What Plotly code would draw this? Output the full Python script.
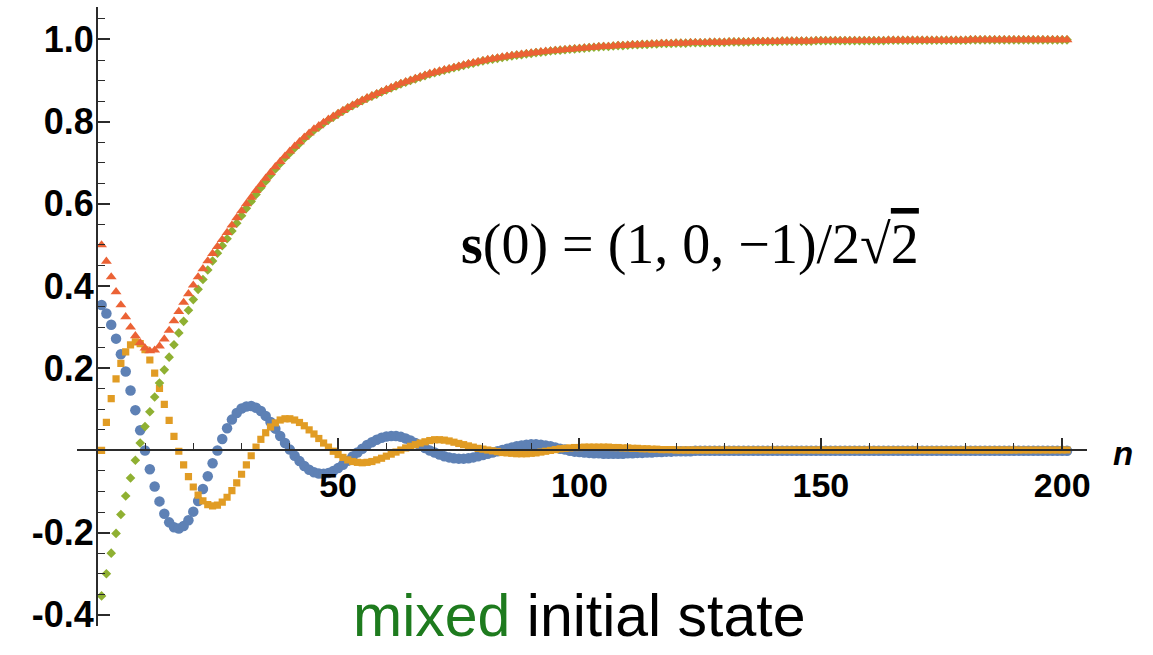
import plotly.graph_objects as go

# step index n (ListPlot-style: first entry is the initial state at n = 1)
n = list(range(1, 202))

blue = [
    0.354, 0.333, 0.306, 0.272, 0.234, 0.192, 0.146, 0.098, 0.049, 0.000,
    -0.046, -0.088, -0.124, -0.154, -0.175, -0.187, -0.190, -0.184, -0.170, -0.149,
    -0.123, -0.094, -0.063, -0.031, 0.000, 0.028, 0.054, 0.075, 0.091, 0.102,
    0.107, 0.108, 0.104, 0.096, 0.084, 0.069, 0.053, 0.035, 0.018, 0.002,
    -0.013, -0.026, -0.038, -0.047, -0.053, -0.056, -0.057, -0.055, -0.050, -0.043,
    -0.035, -0.025, -0.015, -0.005, 0.004, 0.013, 0.020, 0.026, 0.031, 0.034,
    0.035, 0.035, 0.033, 0.029, 0.024, 0.018, 0.012, 0.006, 0.000, -0.005,
    -0.010, -0.014, -0.017, -0.019, -0.020, -0.020, -0.019, -0.017, -0.014, -0.011,
    -0.008, -0.005, -0.002, 0.001, 0.004, 0.007, 0.010, 0.012, 0.014, 0.015,
    0.015, 0.014, 0.012, 0.010, 0.007, 0.004, 0.002, -0.001, -0.003, -0.004,
    -0.005, -0.006, -0.007, -0.007, -0.008, -0.008, -0.008, -0.008, -0.008, -0.007,
    -0.007, -0.006, -0.006, -0.005, -0.005, -0.004, -0.004, -0.003, -0.003, -0.002,
    -0.002, -0.002, -0.002, -0.001, -0.001, -0.001, -0.001, -0.001, -0.001, -0.001,
    -0.001, -0.001, -0.001, -0.001, -0.001, -0.001, -0.001, -0.001, -0.001, -0.001,
    -0.001, -0.001, -0.001, -0.001, -0.001, -0.001, -0.001, -0.001, -0.001, -0.001,
    -0.001, -0.001, -0.001, -0.001, -0.001, -0.001, -0.001, -0.001, -0.001, -0.001,
    -0.001, -0.001, -0.001, -0.001, -0.001, -0.001, -0.001, -0.001, -0.001, -0.001,
    -0.001, -0.001, -0.001, -0.001, -0.001, -0.001, -0.001, -0.001, -0.001, -0.001,
    -0.001, -0.001, -0.001, -0.001, -0.001, -0.001, -0.001, -0.001, -0.001, -0.001,
    -0.001, -0.001, -0.001, -0.001, -0.001, -0.001, -0.001, -0.001, -0.001, -0.001,
    -0.001,
]

orange = [
    0.000, 0.068, 0.126, 0.174, 0.212, 0.240, 0.257, 0.264, 0.260, 0.245,
    0.220, 0.188, 0.151, 0.112, 0.073, 0.034, -0.002, -0.035, -0.064, -0.089,
    -0.109, -0.123, -0.132, -0.135, -0.133, -0.126, -0.114, -0.098, -0.079, -0.058,
    -0.035, -0.013, 0.008, 0.027, 0.043, 0.057, 0.067, 0.074, 0.077, 0.077,
    0.074, 0.068, 0.060, 0.050, 0.040, 0.029, 0.018, 0.008, -0.002, -0.010,
    -0.017, -0.023, -0.027, -0.029, -0.030, -0.029, -0.027, -0.023, -0.019, -0.014,
    -0.009, -0.004, 0.001, 0.006, 0.010, 0.014, 0.018, 0.021, 0.024, 0.026,
    0.026, 0.025, 0.023, 0.020, 0.017, 0.014, 0.011, 0.008, 0.005, 0.003,
    0.001, -0.001, -0.003, -0.005, -0.006, -0.007, -0.008, -0.008, -0.008, -0.007,
    -0.006, -0.004, -0.002, 0.000, 0.002, 0.004, 0.005, 0.006, 0.007, 0.007,
    0.008, 0.008, 0.008, 0.008, 0.008, 0.008, 0.007, 0.007, 0.006, 0.006,
    0.005, 0.005, 0.004, 0.004, 0.003, 0.003, 0.002, 0.002, 0.002, 0.001,
    0.001, 0.001, 0.001, 0.001, 0.001, 0.001, 0.001, 0.001, 0.001, 0.001,
    0.001, 0.001, 0.001, 0.001, 0.001, 0.001, 0.001, 0.001, 0.001, 0.001,
    0.001, 0.001, 0.001, 0.001, 0.001, 0.001, 0.001, 0.001, 0.001, 0.001,
    0.001, 0.001, 0.001, 0.001, 0.001, 0.001, 0.001, 0.001, 0.001, 0.001,
    0.001, 0.001, 0.001, 0.001, 0.001, 0.001, 0.001, 0.001, 0.001, 0.001,
    0.001, 0.001, 0.001, 0.001, 0.001, 0.001, 0.001, 0.001, 0.001, 0.001,
    0.001, 0.001, 0.001, 0.001, 0.001, 0.001, 0.001, 0.001, 0.001, 0.001,
    0.001, 0.001, 0.001, 0.001, 0.001, 0.001, 0.001, 0.001, 0.001, 0.001,
    0.001,
]

green = [
    -0.354, -0.300, -0.250, -0.202, -0.156, -0.111, -0.067, -0.024, 0.018, 0.058,
    0.094, 0.130, 0.164, 0.196, 0.227, 0.257, 0.286, 0.314, 0.341, 0.367,
    0.392, 0.416, 0.439, 0.461, 0.480, 0.498, 0.515, 0.534, 0.553, 0.571,
    0.589, 0.606, 0.623, 0.639, 0.655, 0.670, 0.685, 0.698, 0.712, 0.724,
    0.736, 0.747, 0.759, 0.769, 0.779, 0.787, 0.796, 0.804, 0.811, 0.819,
    0.826, 0.833, 0.839, 0.845, 0.851, 0.857, 0.862, 0.867, 0.872, 0.877,
    0.882, 0.887, 0.892, 0.896, 0.900, 0.904, 0.908, 0.912, 0.916, 0.919,
    0.922, 0.925, 0.928, 0.931, 0.934, 0.937, 0.940, 0.942, 0.945, 0.948,
    0.950, 0.952, 0.954, 0.956, 0.958, 0.960, 0.962, 0.963, 0.965, 0.966,
    0.968, 0.969, 0.970, 0.972, 0.973, 0.974, 0.975, 0.976, 0.977, 0.978,
    0.979, 0.980, 0.981, 0.982, 0.983, 0.983, 0.984, 0.985, 0.985, 0.986,
    0.987, 0.987, 0.988, 0.988, 0.989, 0.989, 0.990, 0.990, 0.990, 0.991,
    0.991, 0.991, 0.992, 0.992, 0.992, 0.992, 0.993, 0.993, 0.993, 0.993,
    0.994, 0.994, 0.994, 0.994, 0.994, 0.995, 0.995, 0.995, 0.995, 0.995,
    0.995, 0.996, 0.996, 0.996, 0.996, 0.996, 0.996, 0.996, 0.997, 0.997,
    0.997, 0.997, 0.997, 0.997, 0.997, 0.997, 0.997, 0.997, 0.997, 0.997,
    0.997, 0.997, 0.997, 0.998, 0.998, 0.998, 0.998, 0.998, 0.998, 0.998,
    0.998, 0.998, 0.998, 0.998, 0.998, 0.998, 0.998, 0.998, 0.998, 0.998,
    0.999, 0.999, 0.999, 0.999, 0.999, 0.999, 0.999, 0.999, 0.999, 0.999,
    0.999, 0.999, 0.999, 0.999, 0.999, 0.999, 0.999, 0.999, 0.999, 0.999,
    0.999,
]

red = [
    0.500, 0.460, 0.422, 0.386, 0.354, 0.325, 0.300, 0.279, 0.262, 0.249,
    0.242, 0.244, 0.254, 0.271, 0.292, 0.315, 0.338, 0.360, 0.381, 0.402,
    0.422, 0.442, 0.461, 0.479, 0.496, 0.513, 0.530, 0.548, 0.566, 0.583,
    0.600, 0.616, 0.632, 0.647, 0.662, 0.676, 0.690, 0.703, 0.716, 0.728,
    0.740, 0.751, 0.762, 0.772, 0.782, 0.790, 0.798, 0.806, 0.813, 0.820,
    0.827, 0.834, 0.840, 0.846, 0.852, 0.858, 0.863, 0.868, 0.873, 0.878,
    0.883, 0.888, 0.893, 0.897, 0.901, 0.905, 0.909, 0.913, 0.917, 0.920,
    0.923, 0.926, 0.929, 0.932, 0.935, 0.938, 0.941, 0.943, 0.946, 0.948,
    0.951, 0.953, 0.955, 0.957, 0.959, 0.961, 0.962, 0.964, 0.965, 0.967,
    0.968, 0.970, 0.971, 0.972, 0.973, 0.974, 0.975, 0.976, 0.977, 0.978,
    0.979, 0.980, 0.981, 0.982, 0.983, 0.983, 0.984, 0.985, 0.985, 0.986,
    0.987, 0.987, 0.988, 0.988, 0.989, 0.989, 0.990, 0.990, 0.990, 0.991,
    0.991, 0.991, 0.992, 0.992, 0.992, 0.992, 0.993, 0.993, 0.993, 0.993,
    0.994, 0.994, 0.994, 0.994, 0.994, 0.995, 0.995, 0.995, 0.995, 0.995,
    0.995, 0.996, 0.996, 0.996, 0.996, 0.996, 0.996, 0.996, 0.997, 0.997,
    0.997, 0.997, 0.997, 0.997, 0.997, 0.997, 0.997, 0.997, 0.997, 0.997,
    0.997, 0.997, 0.997, 0.998, 0.998, 0.998, 0.998, 0.998, 0.998, 0.998,
    0.998, 0.998, 0.998, 0.998, 0.998, 0.998, 0.998, 0.998, 0.998, 0.998,
    0.999, 0.999, 0.999, 0.999, 0.999, 0.999, 0.999, 0.999, 0.999, 0.999,
    0.999, 0.999, 0.999, 0.999, 0.999, 0.999, 0.999, 0.999, 0.999, 0.999,
    0.999,
]

x_tick_vals = [50, 100, 150, 200]
x_tick_text = ["50", "100", "150", "200"]
y_tick_vals = [-0.4, -0.2, 0.2, 0.4, 0.6, 0.8, 1.0]
y_tick_text = ["-0.4", "-0.2", "0.2", "0.4", "0.6", "0.8", "1.0"]

W, H = 1153, 655
X_RANGE = [-4.13, 205.17]
Y_RANGE = [-0.4279, 1.0792]
X_DOMAIN = [77 / W, 1090 / W]
Y_DOMAIN = [20 / H, 648 / H]

# axes cross at the origin, Mathematica style
yaxis_at = X_DOMAIN[0] + (0 - X_RANGE[0]) / (X_RANGE[1] - X_RANGE[0]) * (X_DOMAIN[1] - X_DOMAIN[0])
xaxis_at = Y_DOMAIN[0] + (0 - Y_RANGE[0]) / (Y_RANGE[1] - Y_RANGE[0]) * (Y_DOMAIN[1] - Y_DOMAIN[0])

series = [
    (blue, "#5E81B5", "circle", 10.5),
    (orange, "#E19C24", "square", 7.2),
    (green, "#8FB032", "diamond", 7.4),
    (red, "#EB6235", "triangle-up", 9.5),
]

fig = go.Figure()
for values, color, symbol, size in series:
    fig.add_trace(go.Scatter(
        x=n, y=values, mode="markers",
        marker=dict(color=color, symbol=symbol, size=size, line=dict(width=0)),
        showlegend=False, hoverinfo="skip",
    ))

axis_color = "#2b2b2b"
y_font = dict(family="Liberation Sans, Arial, sans-serif", size=36, color="black", weight="bold")
x_font = dict(family="Liberation Sans, Arial, sans-serif", size=34, color="black", weight="bold")

fig.update_layout(
    width=W, height=H,
    margin=dict(l=0, r=0, t=0, b=0),
    paper_bgcolor="white", plot_bgcolor="white",
    xaxis=dict(
        domain=X_DOMAIN, range=X_RANGE, anchor="free", position=xaxis_at,
        showgrid=False, zeroline=False, showline=True, linecolor=axis_color, linewidth=1.6,
        tickmode="array", tickvals=x_tick_vals, ticktext=x_tick_text,
        ticks="inside", ticklen=12, tickwidth=1.6, tickcolor=axis_color,
        minor=dict(dtick=10, tick0=0, ticks="inside", ticklen=7, tickwidth=1.3, tickcolor=axis_color),
        tickfont=x_font, ticklabelstandoff=5,
    ),
    yaxis=dict(
        domain=Y_DOMAIN, range=Y_RANGE, anchor="free", position=yaxis_at,
        showgrid=False, zeroline=False, showline=True, linecolor=axis_color, linewidth=1.6,
        tickmode="array", tickvals=y_tick_vals, ticktext=y_tick_text,
        ticks="inside", ticklen=12, tickwidth=1.6, tickcolor=axis_color,
        minor=dict(dtick=0.05, tick0=0, ticks="inside", ticklen=7, tickwidth=1.3, tickcolor=axis_color),
        tickfont=y_font, ticklabelstandoff=-5,
    ),
)

fig.add_annotation(
    x=1126 / W, y=(H - 460) / H, xref="paper", yref="paper",
    text="<b><i>n</i></b>", showarrow=False,
    font=dict(family="Liberation Sans, Arial, sans-serif", size=33, color="black"),
    xanchor="center", yanchor="middle",
)

fig.add_annotation(
    x=122.9, y=0.500, xref="x", yref="y",
    text="<b>s</b>(0) = (1, 0, \u22121)/2\u221a<span style='text-decoration:overline'>2</span>",
    showarrow=False,
    font=dict(family="Liberation Serif, Times New Roman, serif", size=56, color="black"),
    xanchor="center", yanchor="middle",
)

fig.add_annotation(
    x=100, y=-0.404, xref="x", yref="y",
    text="<span style='color:#1E7B1E'>mixed</span> initial state",
    showarrow=False,
    font=dict(family="Liberation Sans, Arial, sans-serif", size=59, color="black"),
    xanchor="center", yanchor="middle",
)

# keep the page exactly the size of the figure (no body margin, no scrollbars)
fig.write_html(
    "out.html",
    post_script="document.documentElement.style.overflow='hidden';"
                "document.body.style.margin='0';document.body.style.overflow='hidden';",
)
